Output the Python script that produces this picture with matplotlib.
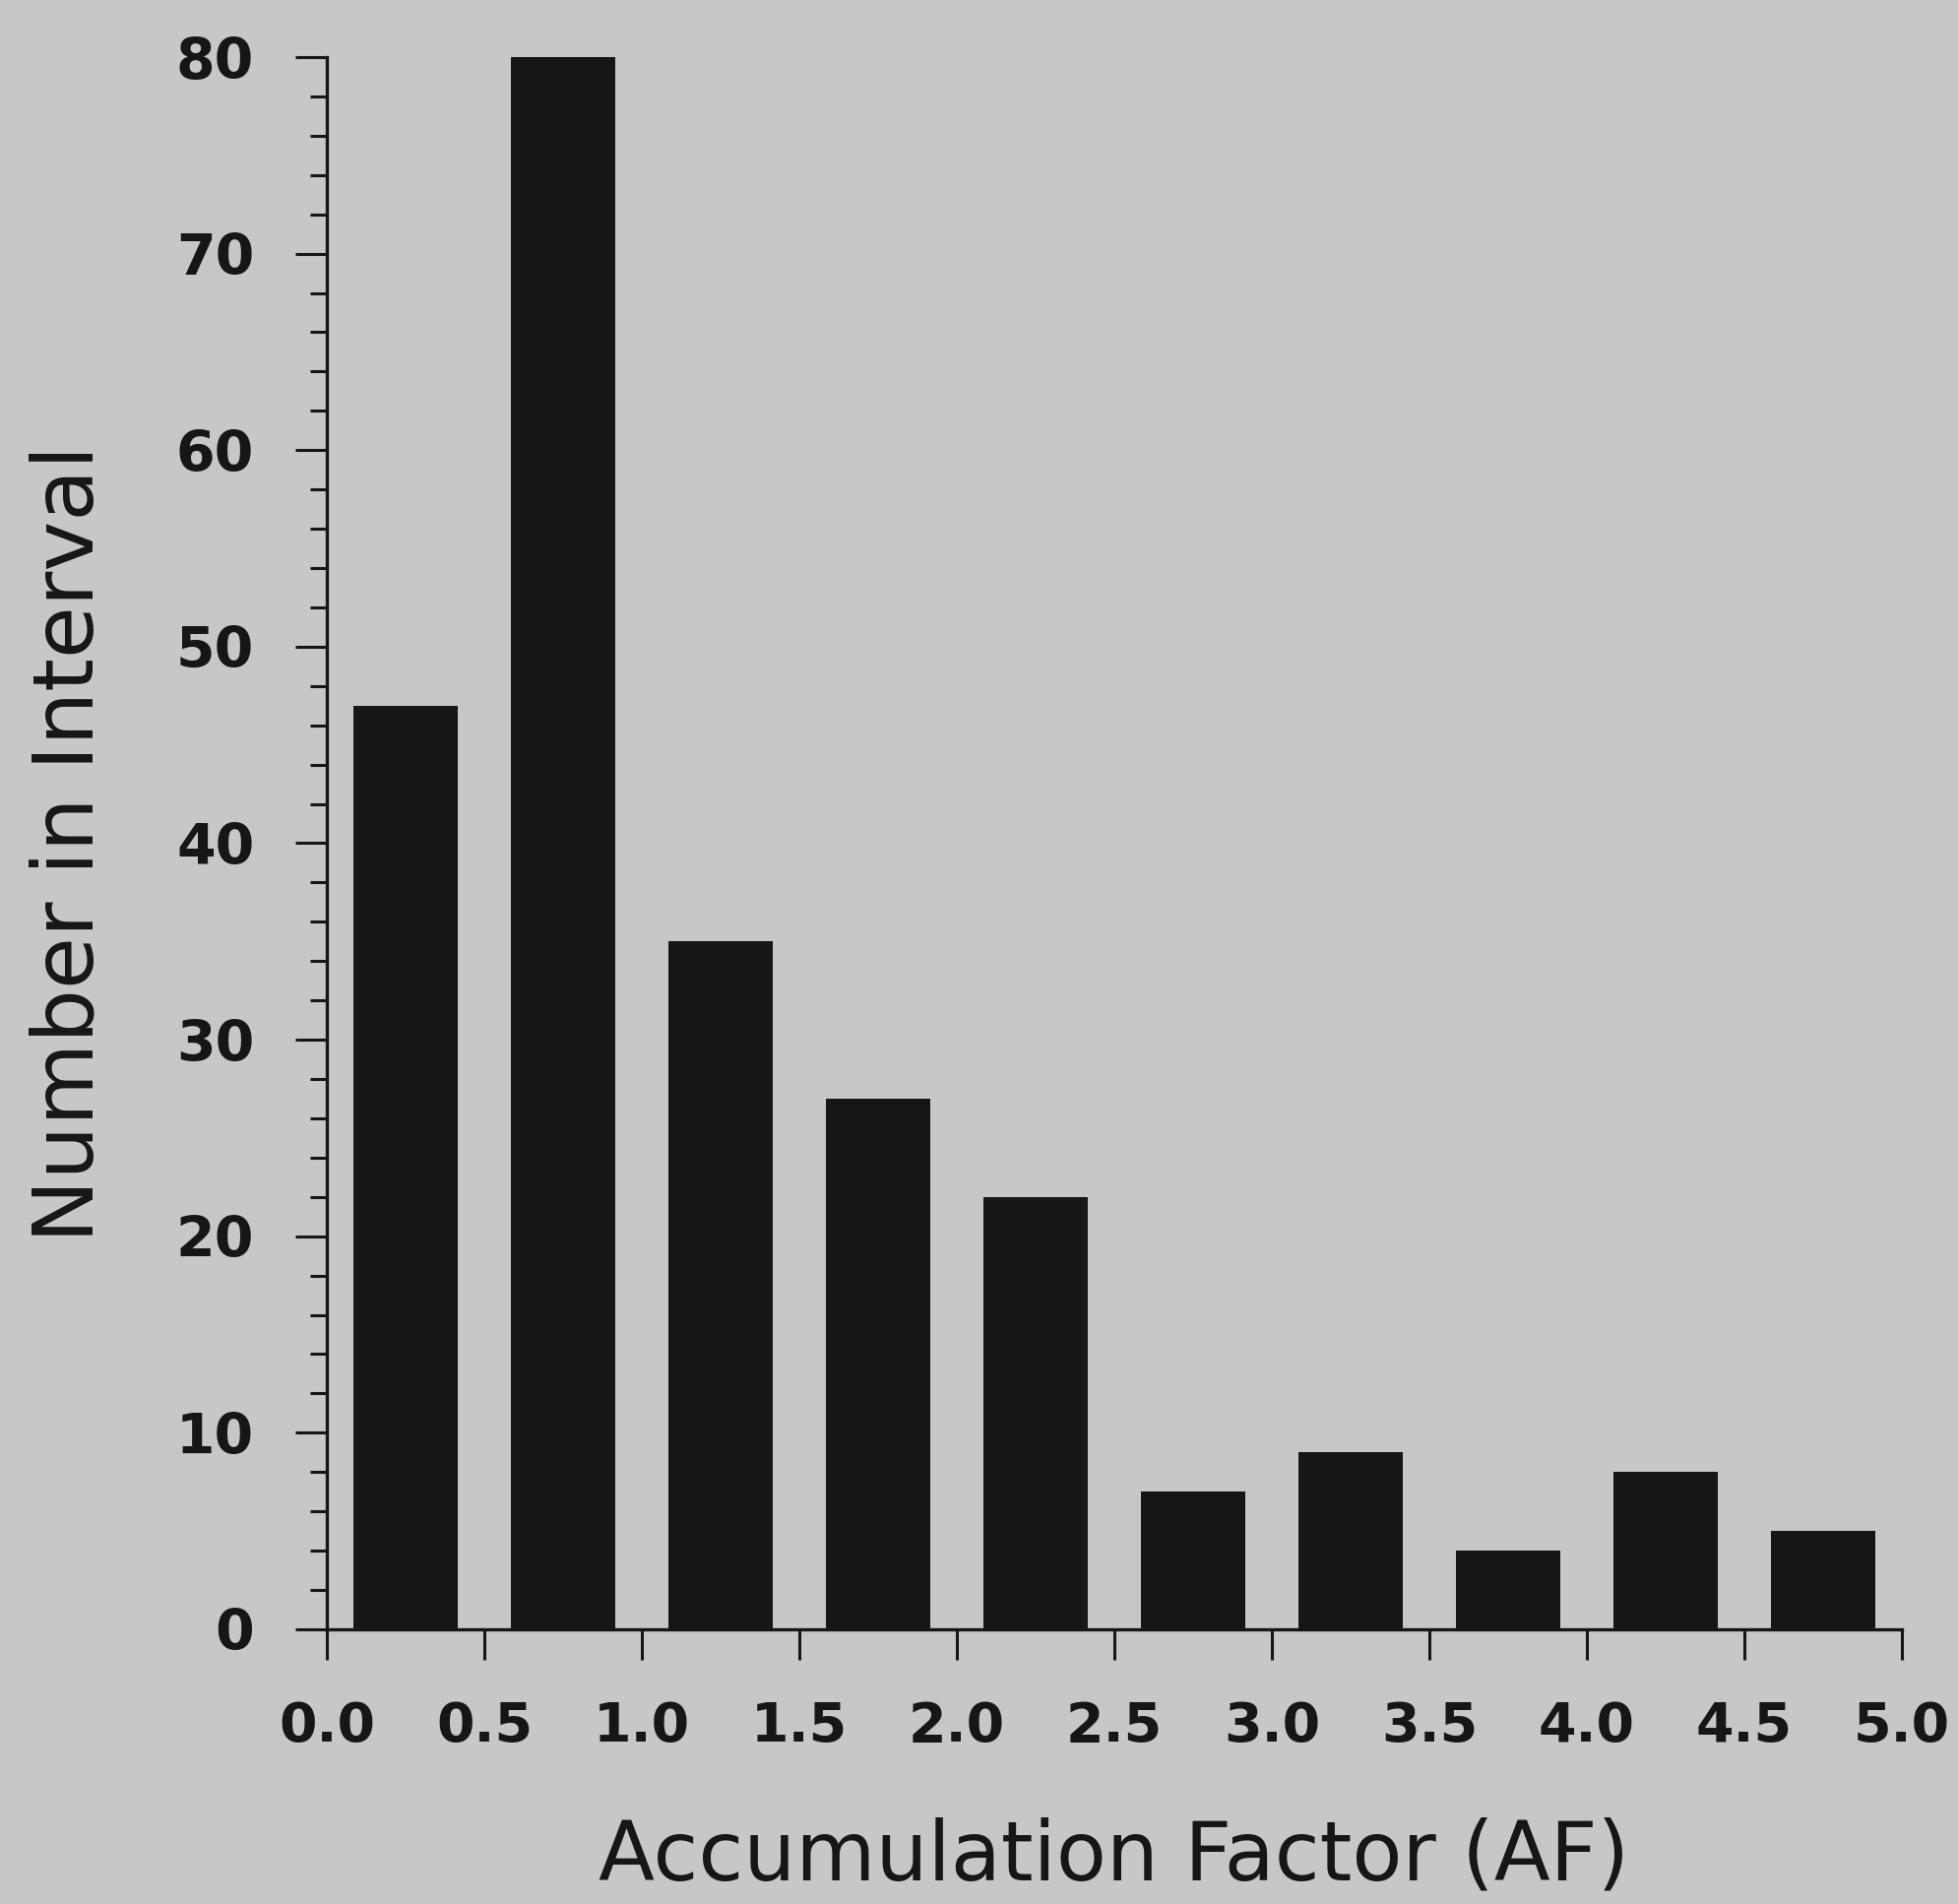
import numpy as np
import matplotlib
matplotlib.use("agg")
import matplotlib.pyplot as plt
from matplotlib.ticker import MultipleLocator

# histogram of accumulation factor, bins of 0.5
bin_centers = [0.25, 0.75, 1.25, 1.75, 2.25, 2.75, 3.25, 3.75, 4.25, 4.75]
counts = [47, 80, 35, 27, 22, 7, 9, 4, 8, 5]
x_ticks = [0.0, 0.5, 1.0, 1.5, 2.0, 2.5, 3.0, 3.5, 4.0, 4.5, 5.0]
y_ticks = [0, 10, 20, 30, 40, 50, 60, 70, 80]

paper = "#c7c7c5"
ink = "#161616"

fig = plt.figure(figsize=(19.89, 19.34), dpi=100, facecolor=paper)
ax = fig.add_axes([0.1669, 0.1443, 0.8044, 0.8257], facecolor=paper)

ax.bar(bin_centers, counts, width=0.33, color=ink, edgecolor=ink, linewidth=0)

ax.set_xlim(0, 5.0)
ax.set_ylim(0, 80)
ax.set_xticks(x_ticks)
ax.set_xticklabels([f"{t:.1f}" for t in x_ticks])
ax.set_yticks(y_ticks)
ax.yaxis.set_minor_locator(MultipleLocator(2))

for side in ["top", "right"]:
    ax.spines[side].set_visible(False)
for side in ["left", "bottom"]:
    ax.spines[side].set_linewidth(2.4)
    ax.spines[side].set_color(ink)

ax.tick_params(axis="x", which="major", direction="out", length=22, width=2.2,
               color=ink, pad=30, labelsize=40, labelcolor=ink)
ax.tick_params(axis="y", which="major", direction="out", length=23, width=2.2,
               color=ink, pad=30, labelsize=41, labelcolor=ink)
ax.tick_params(axis="y", which="minor", direction="out", length=12, width=2.2,
               color=ink)
for lab in ax.get_xticklabels() + ax.get_yticklabels():
    lab.set_fontweight("bold")

ax.set_xlabel("Accumulation Factor (AF)", fontsize=60, color=ink, labelpad=46)
ax.set_ylabel("Number in Interval", fontsize=62, color=ink, labelpad=48)

fig.savefig("out.png", dpi=100, facecolor=paper)
